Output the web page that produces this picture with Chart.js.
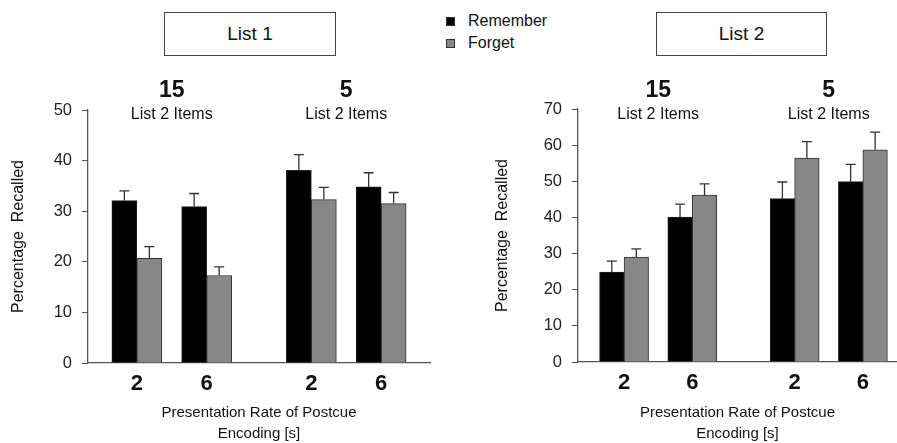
<!DOCTYPE html>
<html>
<head>
<meta charset="utf-8">
<script src="https://cdn.jsdelivr.net/npm/chart.js@4/dist/chart.umd.min.js"></script>
<style>
  html, body { margin: 0; padding: 0; background: #fff; }
  body { width: 897px; height: 443px; position: relative; overflow: hidden; font-family: "Liberation Sans", Arial, sans-serif; color: #111; }
  .box { position: absolute; border: 1.5px solid #444; box-sizing: border-box; display: flex; align-items: center; justify-content: center; font-size: 19px; background: #fff; }
  .leg { position: absolute; font-size: 16px; display: flex; align-items: center; }
  .sw { width: 9px; height: 9px; box-sizing: border-box; border: 1px solid #333; margin-right: 13px; }
  canvas { position: absolute; top: 0; }
</style>
</head>
<body>
<div class="box" style="left:164px;top:12px;width:172px;height:44px;">List 1</div>
<div class="box" style="left:656px;top:12px;width:171px;height:44px;">List 2</div>
<div class="leg" style="left:446px;top:11px;height:20px;"><div class="sw" style="background:#000"></div>Remember</div>
<div class="leg" style="left:446px;top:33px;height:20px;"><div class="sw" style="background:#888"></div>Forget</div>
<div style="position:absolute;left:0;top:0;width:450px;height:443px;"><canvas id="c1" width="450" height="443"></canvas></div>
<div style="position:absolute;left:450px;top:0;width:447px;height:443px;"><canvas id="c2" width="447" height="443"></canvas></div>
<script>
// ---- data ----
const groupLabels = ['15', '5'];
const groupSub = 'List 2 Items';
const rateLabels = ['2', '6'];
const seriesNames = ['Remember', 'Forget'];

const list1Remember = [32.1, 30.9, 38.1, 34.8];
const list1RememberErr = [1.9, 2.6, 3.1, 2.8];
const list1Forget = [20.7, 17.3, 32.3, 31.5];
const list1ForgetErr = [2.3, 1.7, 2.4, 2.2];

const list2Remember = [24.9, 40.1, 45.2, 49.9];
const list2RememberErr = [3.0, 3.6, 4.6, 4.8];
const list2Forget = [29.0, 46.2, 56.4, 58.7];
const list2ForgetErr = [2.3, 3.1, 4.6, 4.9];

const list1YTicks = [0, 10, 20, 30, 40, 50];
const list2YTicks = [0, 10, 20, 30, 40, 50, 60, 70];

const xTitle = ['Presentation Rate of Postcue', 'Encoding [s]'];
const yTitle = 'Percentage  Recalled';

// ---- helpers ----
// slot index along x: group g, rate i
const slotOf = (g, i) => g * 5 + i * 2;
const slots = [];
const slotLabels = {};
groupLabels.forEach((gl, g) => rateLabels.forEach((rl, i) => { const s = slotOf(g, i); slots.push(s); slotLabels[s] = rl; }));

const errPlugin = {
  id: 'errbars',
  afterDatasetsDraw(chart) {
    const ctx = chart.ctx;
    const ys = chart.scales.y;
    chart.data.datasets.forEach((ds, di) => {
      const meta = chart.getDatasetMeta(di);
      meta.data.forEach((el, j) => {
        const top = ys.getPixelForValue(ds.data[j].y + ds.err[j]);
        ctx.save();
        ctx.strokeStyle = '#333';
        ctx.lineWidth = 1.3;
        ctx.beginPath();
        ctx.moveTo(el.x, el.y);
        ctx.lineTo(el.x, top);
        ctx.moveTo(el.x - 5, top);
        ctx.lineTo(el.x + 5, top);
        ctx.stroke();
        ctx.restore();
      });
    });
  }
};

const headPlugin = {
  id: 'heads',
  afterDraw(chart) {
    const ctx = chart.ctx;
    const xs = chart.scales.x;
    groupLabels.forEach((gl, g) => {
      const cx = (xs.getPixelForValue(slotOf(g, 0)) + xs.getPixelForValue(slotOf(g, rateLabels.length - 1))) / 2;
      ctx.save();
      ctx.fillStyle = '#111';
      ctx.textAlign = 'center';
      ctx.textBaseline = 'middle';
      ctx.font = 'bold 23px "Liberation Sans", Arial, sans-serif';
      ctx.fillText(gl, cx, 91);
      ctx.font = '16px "Liberation Sans", Arial, sans-serif';
      ctx.fillText(groupSub, cx, 115);
      ctx.restore();
    });
  }
};

function makeChart(id, rem, remErr, fog, fogErr, yTicks, cfg) {
  const toPts = arr => arr.map((v, k) => ({ x: slots[k], y: v }));
  return new Chart(document.getElementById(id), {
    type: 'bar',
    data: {
      datasets: [
        { label: seriesNames[0], data: toPts(rem), err: remErr, backgroundColor: '#000', borderColor: '#222', borderWidth: 1, barThickness: cfg.bar },
        { label: seriesNames[1], data: toPts(fog), err: fogErr, backgroundColor: '#878787', borderColor: '#333', borderWidth: 1, barThickness: cfg.bar }
      ]
    },
    options: {
      responsive: false,
      animation: false,
      events: [],
      layout: { padding: { top: cfg.top, right: cfg.right, left: 0, bottom: 0 } },
      plugins: { legend: { display: false }, tooltip: { enabled: false } },
      scales: {
        x: {
          type: 'linear',
          offset: false,
          min: cfg.xmin,
          max: cfg.xmax,
          afterFit: s => { s.height = 443 - cfg.bottom; },
          afterBuildTicks: s => { s.ticks = [{ value: cfg.xmin }].concat(slots.map(v => ({ value: v }))); },
          ticks: {
            autoSkip: false,
            maxRotation: 0,
            padding: 3,
            color: '#111',
            font: { family: '"Liberation Sans", Arial, sans-serif', size: 22, weight: 'bold' },
            callback: v => slotLabels[v] !== undefined ? slotLabels[v] : ''
          },
          grid: {
            drawOnChartArea: false,
            tickLength: 5,
            color: c => c.index === 0 ? '#555' : 'rgba(0,0,0,0)'
          },
          border: { display: true, color: '#555', width: 1.3 },
          title: {
            display: true,
            text: xTitle,
            color: '#111',
            font: { family: '"Liberation Sans", Arial, sans-serif', size: 15, lineHeight: '21px' },
            padding: { top: 0, bottom: -1 }
          }
        },
        y: {
          min: 0,
          max: yTicks[yTicks.length - 1],
          afterFit: s => { s.width = cfg.axisX; },
          afterBuildTicks: s => { s.ticks = yTicks.map(v => ({ value: v })); },
          ticks: {
            padding: 10,
            color: '#222',
            font: { family: '"Liberation Sans", Arial, sans-serif', size: 16.5 }
          },
          grid: { drawOnChartArea: false, tickLength: 6, color: '#555' },
          border: { display: true, color: '#555', width: 1.3 },
          title: {
            display: true,
            text: yTitle,
            color: '#111',
            font: { family: '"Liberation Sans", Arial, sans-serif', size: 16, lineHeight: '16px' },
            padding: { top: cfg.titlePad, bottom: 0 }
          }
        }
      }
    },
    plugins: [errPlugin, headPlugin]
  });
}

makeChart('c1', list1Remember, list1RememberErr, list1Forget, list1ForgetErr, list1YTicks,
  { top: 110, bottom: 363, right: 20, axisX: 88, xmin: -1.40, xmax: 8.40, bar: 25, titlePad: 11 });
makeChart('c2', list2Remember, list2RememberErr, list2Forget, list2ForgetErr, list2YTicks,
  { top: 109, bottom: 362, right: 0, axisX: 128, xmin: -1.35, xmax: 8.0, bar: 24.5, titlePad: 45 });
</script>
</body>
</html>
